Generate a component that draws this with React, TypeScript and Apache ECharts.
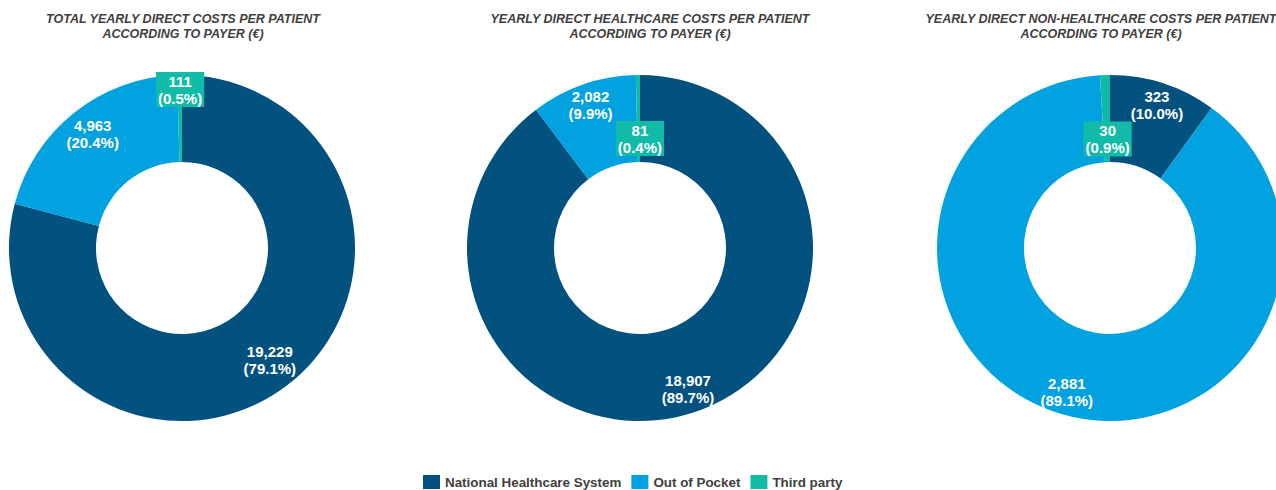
import React, { useEffect, useRef } from "react";
import * as echarts from "echarts";

const payers = ["National Healthcare System", "Out of Pocket", "Third party"];
const totalCosts = [19229, 4963, 111];
const healthcareCosts = [18907, 2082, 81];
const nonHealthcareCosts = [323, 2881, 30];
const titles = [
  "TOTAL YEARLY DIRECT COSTS PER PATIENT\nACCORDING TO PAYER (€)",
  "YEARLY DIRECT HEALTHCARE COSTS PER PATIENT\nACCORDING TO PAYER (€)",
  "YEARLY DIRECT NON-HEALTHCARE COSTS PER PATIENT\nACCORDING TO PAYER (€)",
];
const colors = ["#02517F", "#02A1DF", "#12BBA8"];

// label nudges (layout only)
const labelOffsets = [
  [[7, 7], [-7, -10], [0, -26]],
  [[6, 15], [-6, -18], [1.5, 23]],
  [[6, -17], [-6, 17], [1.5, 23.5]],
];
const centersX = [182, 640, 1110];
const titleX = [183, 650, 1101];

const FONT = "'Liberation Sans', Arial, sans-serif";

export default function App() {
  const ref = useRef<HTMLDivElement>(null);
  useEffect(() => {
    document.body.style.margin = "0";
    if (!ref.current) return;
    const chart = echarts.init(ref.current, null, { renderer: "svg" });
    const datasets = [totalCosts, healthcareCosts, nonHealthcareCosts];
    const series = datasets.map((vals, si) => {
      const total = vals.reduce((a, b) => a + b, 0);
      return {
        type: "pie",
        center: [centersX[si], 248],
        radius: [86, 173],
        startAngle: 90,
        clockwise: true,
        avoidLabelOverlap: false,
        silent: true,
        label: {
          show: true,
          position: "inside",
          color: "#ffffff",
          fontFamily: FONT,
          fontWeight: "bold",
          fontSize: 15,
          lineHeight: 17,
          formatter: (p: any) =>
            p.value.toLocaleString("en-US") +
            "\n(" +
            ((p.value / total) * 100).toFixed(1) +
            "%)",
        },
        labelLine: { show: false },
        labelLayout: (p: any) => {
          const o = labelOffsets[si][p.dataIndex];
          return { dx: o[0], dy: o[1] };
        },
        data: vals.map((v, i) => ({
          name: payers[i],
          value: v,
          itemStyle: { color: colors[i] },
          label:
            i === 2
              ? { backgroundColor: colors[2], padding: [1, 2, 0, 2] }
              : {},
        })),
      };
    });
    chart.setOption({
      animation: false,
      textStyle: { fontFamily: FONT },
      legend: {
        data: payers,
        left: 423,
        top: 475,
        padding: 0,
        itemWidth: 17,
        itemHeight: 14,
        itemGap: 10,
        icon: "rect",
        selectedMode: false,
        textStyle: {
          color: "#404040",
          fontFamily: FONT,
          fontWeight: "bold",
          fontSize: 13.4,
        },
      },
      graphic: titles.map((t, i) => ({
        type: "text",
        x: titleX[i],
        y: 11,
        style: {
          text: t,
          textAlign: "center",
          fill: "#404040",
          font: "italic bold 12.5px " + FONT,
          lineHeight: 15,
        },
      })),
      series,
    });
    return () => chart.dispose();
  }, []);
  return <div ref={ref} style={{ width: 1276, height: 490 }} />;
}
